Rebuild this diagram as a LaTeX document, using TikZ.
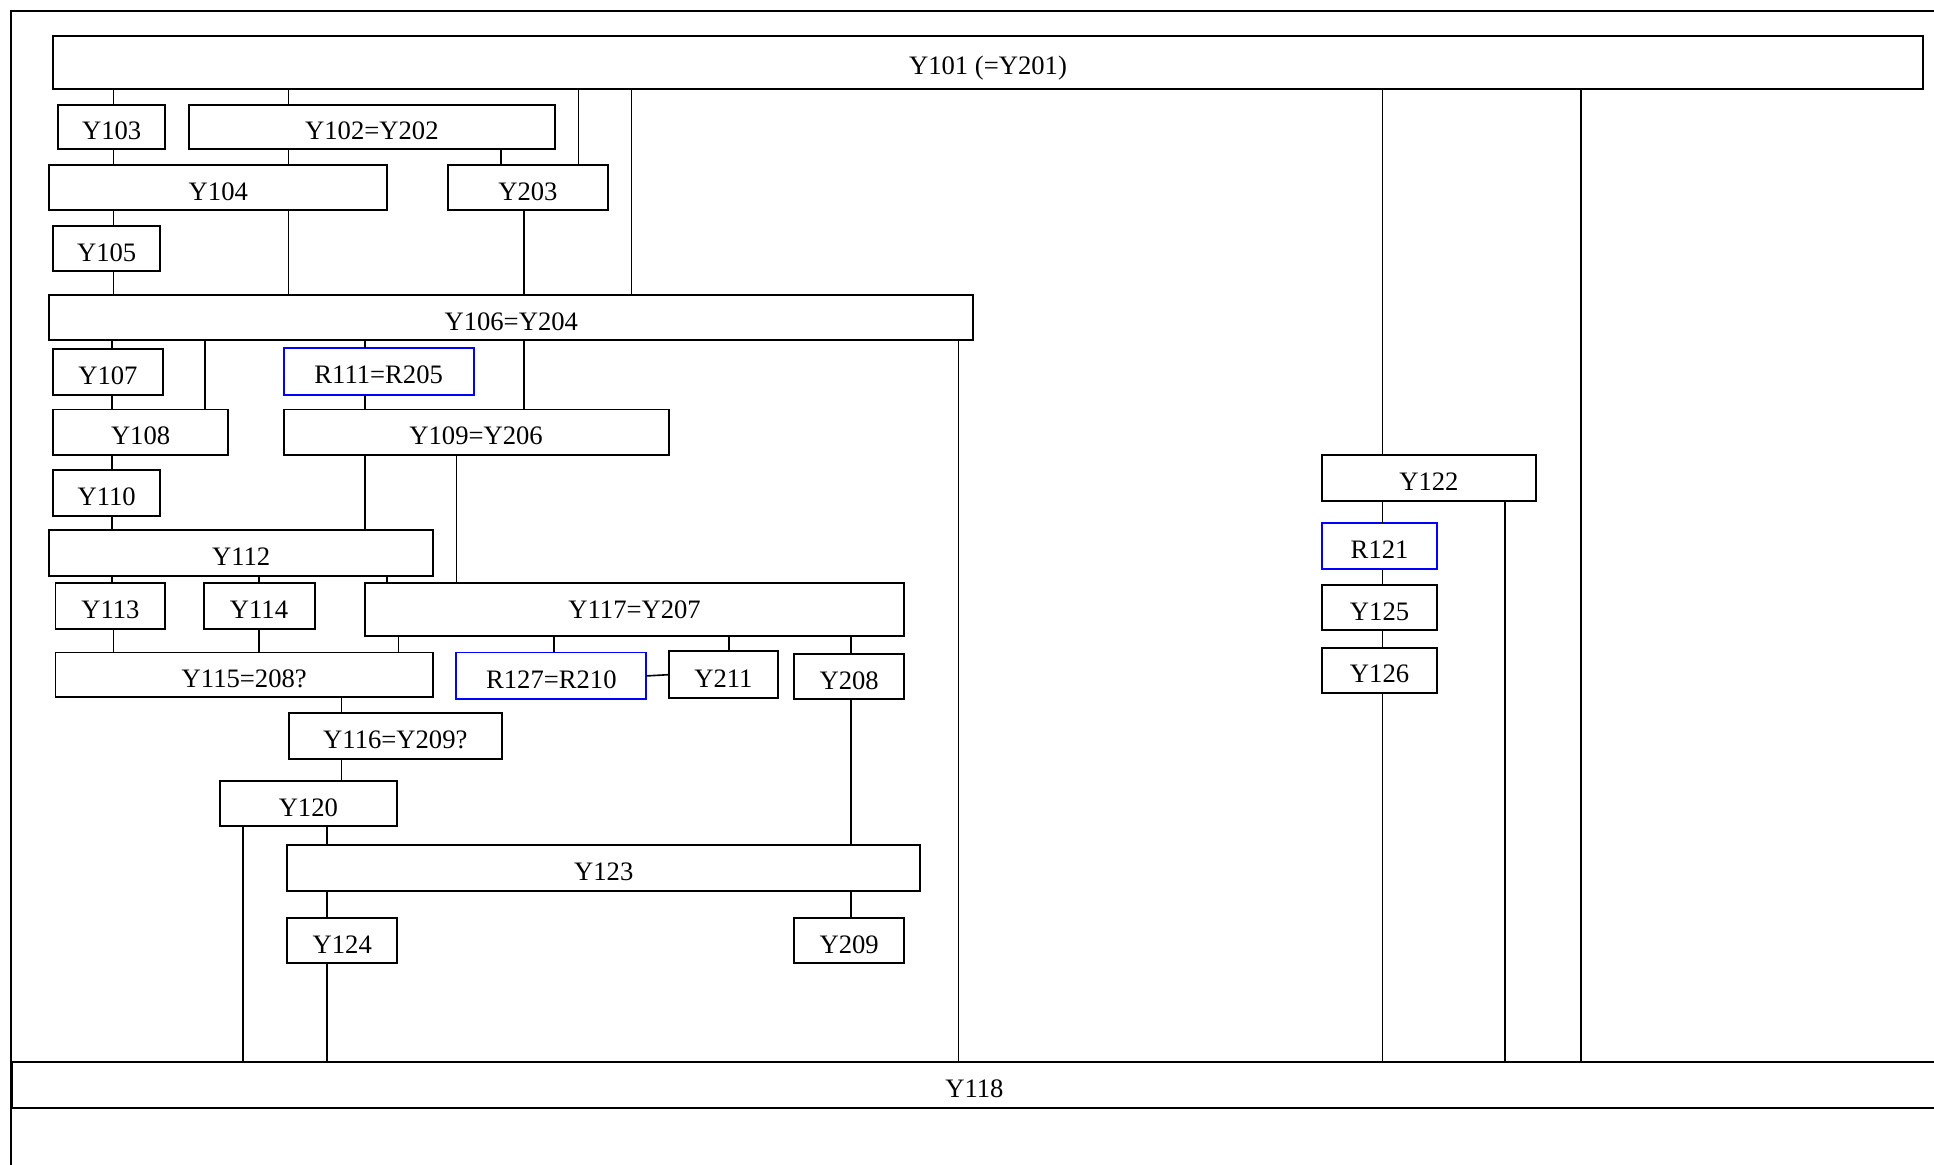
\documentclass[tikz,border=0pt]{standalone}
\usepackage{fontspec}
\setmainfont{Liberation Serif}
\definecolor{rblue}{RGB}{0,0,255}
\tikzset{
  box/.style={draw=black,line width=0.8pt,rectangle,inner sep=0pt,outer sep=0pt,
    text height=10.2pt,text depth=0pt,font=\fontsize{10.8}{12}\selectfont},
  rbox/.style={box,draw=rblue},
  conn/.style={draw=black,line width=0.65pt},
  frame/.style={draw=black,line width=1pt}
}
\newcommand\bx[7][]{\node[box,#1,minimum width={(#5-#3)*0.5pt},minimum height={(#6-#4)*0.5pt}] (#2) at ({(#3+#5)/2},{(#4+#6)/2}) {#7};}
\newcommand\vl[3]{\draw[conn] (#1.south -| #3,0) -- (#2.north -| #3,0);}
\begin{document}
\begin{tikzpicture}[x=0.5pt,y=-0.5pt]
\clip (0,0) rectangle (1568,944);
\fill[white] (0,0) rectangle (1568,944);
\draw[frame] (9,960) -- (9,9) -- (1580,9);
% boxes
\bx{Y101}{43}{29}{1559}{72}{Y101 (=Y201)}
\bx{Y103}{47}{85}{134}{121}{Y103}
\bx{Y102}{153}{85}{450}{121}{Y102=Y202}
\bx{Y104}{40}{134}{314}{170}{Y104}
\bx{Y203}{363}{134}{493}{170}{Y203}
\bx{Y105}{43}{183}{130}{220}{Y105}
\bx{Y106}{40}{239}{789}{276}{Y106=Y204}
\bx{Y107}{43}{283}{132}{320}{Y107}
\bx[rbox]{R111}{230}{282}{384}{320}{R111=R205}
\bx{Y108}{43}{332}{185}{369}{Y108}
\bx{Y109}{230}{332}{542}{369}{Y109=Y206}
\bx{Y110}{43}{381}{130}{418}{Y110}
\bx{Y112}{40}{430}{351}{467}{Y112}
\bx{Y113}{45}{473}{134}{510}{Y113}
\bx{Y114}{165}{473}{255}{510}{Y114}
\bx[text depth=3pt]{Y117}{296}{473}{733}{516}{Y117=Y207}
\bx{Y115}{45}{529}{351}{565}{Y115=208?}
\bx[rbox]{R127}{370}{529}{524}{567}{R127=R210}
\bx{Y211}{542}{528}{631}{566}{Y211}
\bx{Y208}{644}{530}{733}{567}{Y208}
\bx{Y116}{234}{578}{407}{615}{Y116=Y209?}
\bx{Y120}{178}{633}{322}{670}{Y120}
\bx{Y123}{233}{685}{746}{722}{Y123}
\bx{Y124}{233}{744}{322}{781}{Y124}
\bx{Y209}{644}{744}{733}{781}{Y209}
\bx{Y118}{10}{861}{1570}{898}{Y118}
\bx{Y122}{1072}{369}{1245}{406}{Y122}
\bx[rbox]{R121}{1072}{424}{1165}{461}{R121}
\bx{Y125}{1072}{474}{1165}{511}{Y125}
\bx{Y126}{1072}{525}{1165}{562}{Y126}
% connectors
\vl{Y101}{Y103}{92}
\vl{Y101}{Y102}{234}
\vl{Y101}{Y203}{469}
\vl{Y101}{Y106}{512}
\vl{Y101}{Y122}{1121}
\vl{Y101}{Y118}{1282}
\vl{Y103}{Y104}{92}
\vl{Y102}{Y104}{234}
\vl{Y102}{Y203}{406}
\vl{Y104}{Y105}{92}
\vl{Y104}{Y106}{234}
\vl{Y203}{Y106}{425}
\vl{Y105}{Y106}{92}
\vl{Y106}{Y107}{91}
\vl{Y106}{Y108}{166}
\vl{Y106}{R111}{296}
\vl{Y106}{Y109}{425}
\vl{Y106}{Y118}{777}
\vl{Y107}{Y108}{91}
\vl{R111}{Y109}{296}
\vl{Y108}{Y110}{91}
\vl{Y109}{Y112}{296}
\vl{Y109}{Y117}{370}
\vl{Y110}{Y112}{91}
\vl{Y112}{Y113}{91}
\vl{Y112}{Y114}{210}
\vl{Y112}{Y117}{314}
\vl{Y113}{Y115}{92}
\vl{Y114}{Y115}{210}
\vl{Y117}{Y115}{323}
\vl{Y117}{R127}{449}
\vl{Y117}{Y211}{591}
\vl{Y117}{Y208}{690}
\draw[conn] (R127.east) -- (Y211.west);
\vl{Y115}{Y116}{277}
\vl{Y116}{Y120}{277}
\vl{Y120}{Y123}{265}
\vl{Y120}{Y118}{197}
\vl{Y208}{Y123}{690}
\vl{Y123}{Y124}{265}
\vl{Y123}{Y209}{690}
\vl{Y124}{Y118}{265}
\vl{Y122}{R121}{1121}
\vl{Y122}{Y118}{1220}
\vl{R121}{Y125}{1121}
\vl{Y125}{Y126}{1121}
\vl{Y126}{Y118}{1121}
\end{tikzpicture}
\end{document}
